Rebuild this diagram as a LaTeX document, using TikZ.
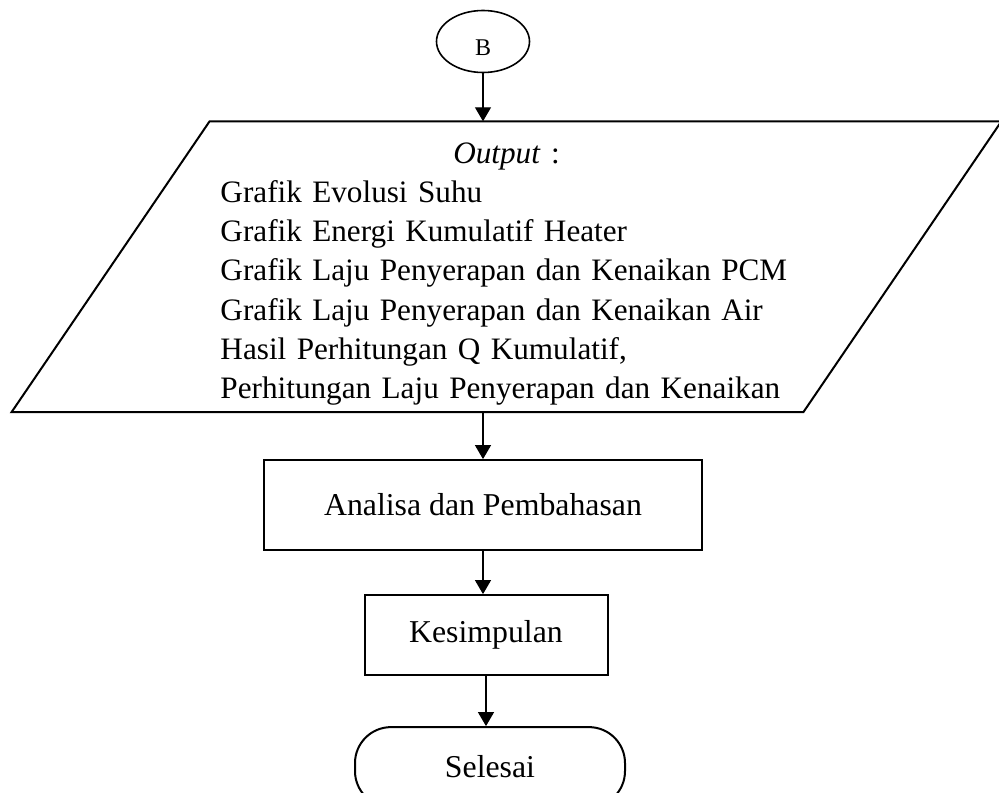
\documentclass[tikz,border=0pt]{standalone}
\usepackage{fontspec}
\setmainfont{Liberation Serif}
\usetikzlibrary{shapes.geometric, arrows.meta, positioning}
\tikzset{
    block/.style={
        rectangle,
        draw=black,
        line width=1pt,
        align=center,
        font=\fontsize{15.9}{19.6}\selectfont
    },
    connector/.style={
        ellipse,
        draw=black,
        line width=0.8pt,
        minimum width=46.5pt,
        minimum height=31pt,
        inner sep=0pt,
        text height=14pt,
        text depth=0pt,
        font=\fontsize{12}{14}\selectfont
    },
    terminal/.style={
        rectangle,
        rounded corners=18pt,
        draw=black,
        line width=1pt,
        minimum width=135pt,
        minimum height=40pt,
        font=\fontsize{15.9}{19.6}\selectfont
    },
    iotext/.style={
        rectangle,
        minimum width=395.5pt,
        minimum height=145pt,
        text width=286pt,
        align=left,
        inner sep=0pt,
        font=\fontsize{15.6}{19.6}\selectfont
    },
    arrow/.style={
        line width=0.6pt,-{Triangle[width=8pt,length=7pt]}
    }
}
\begin{document}
\begin{tikzpicture}

\useasboundingbox (-241.5pt,20.75pt) rectangle (258pt,-375.25pt);

\node (b) [connector] {B};
\node (output) [iotext, below=24pt of b, xshift=11.75pt] {%
    \makebox[\linewidth]{\rule{0pt}{17.5pt}\textit{Output} :}\\
    Grafik Evolusi Suhu\\
    Grafik Energi Kumulatif Heater\\
    Grafik Laju Penyerapan dan Kenaikan PCM\\
    Grafik Laju Penyerapan dan Kenaikan Air\\
    Hasil Perhitungan Q Kumulatif,\\
    Perhitungan Laju Penyerapan dan Kenaikan};
\node (analisa) [block, minimum width=219pt, minimum height=45pt, below=23.5pt of output, xshift=-11.75pt] {Analisa dan Pembahasan};
\node (kesimpulan) [block, minimum width=121.5pt, minimum height=40pt, below=21.5pt of analisa, xshift=1.5pt] {Kesimpulan};
\node (selesai) [terminal, below=25pt of kesimpulan, xshift=2pt] {Selesai};

% parallelogram round the output text
\draw [line width=1pt] ([xshift=49.5pt]output.north west) -- ([xshift=49.5pt]output.north east)
    -- ([xshift=-49.5pt]output.south east) -- ([xshift=-49.5pt]output.south west) -- cycle;

\draw [arrow] (b) -- (b |- output.north);
\draw [arrow] (analisa |- output.south) -- (analisa);
\draw [arrow] (analisa) -- (analisa |- kesimpulan.north);
\draw [arrow] (kesimpulan) -- (kesimpulan |- selesai.north);

\end{tikzpicture}
\end{document}
